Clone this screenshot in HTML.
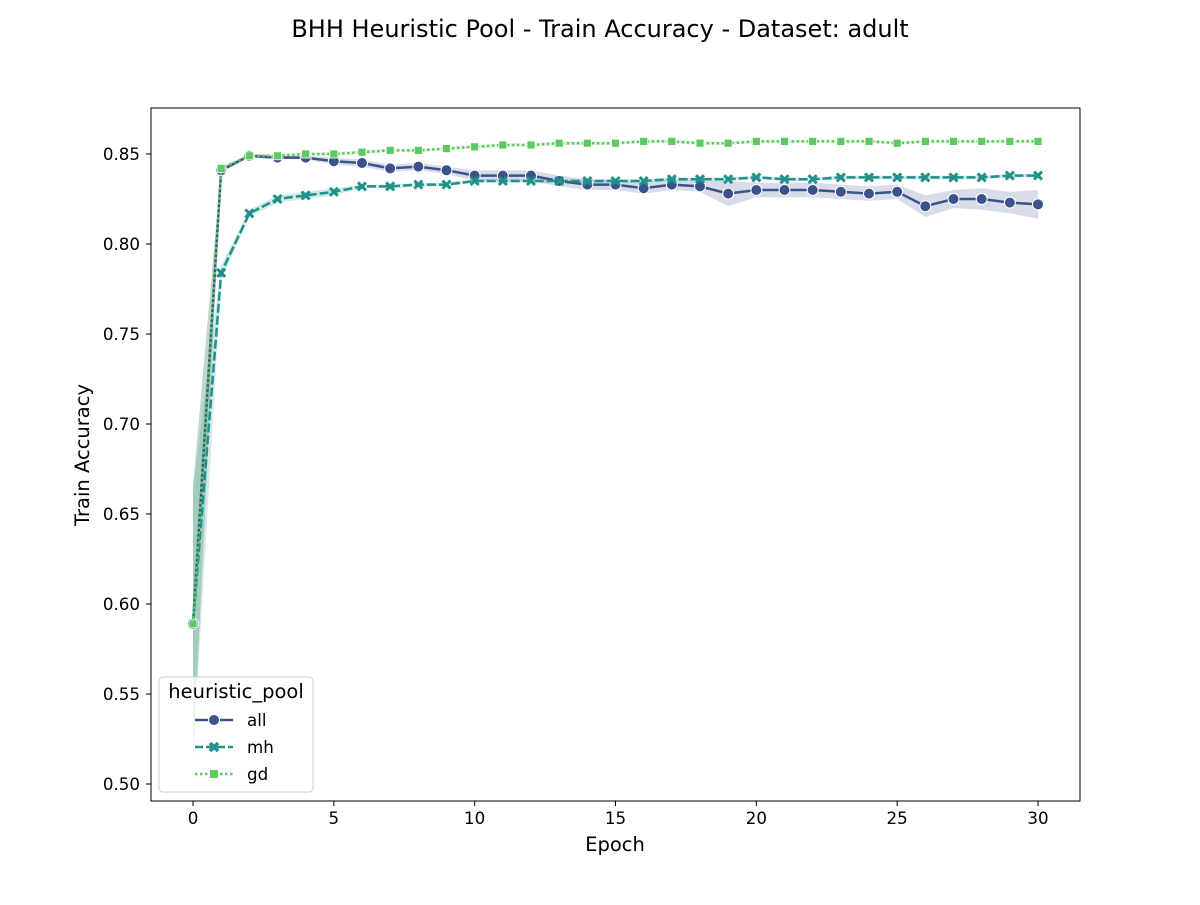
<!DOCTYPE html>
<html><head><meta charset="utf-8"><style>
body{margin:0;background:#fff;font-family:"Liberation Sans","DejaVu Sans",sans-serif;}
svg text{font-family:"DejaVu Sans","Liberation Sans",sans-serif;}
</style></head><body>
<svg id="chart" width="1200" height="900" xmlns="http://www.w3.org/2000/svg">
<rect width="1200" height="900" fill="#fff"/>
<text x="600" y="37" font-size="24" text-anchor="middle">BHH Heuristic Pool - Train Accuracy - Dataset: adult</text>
<g id="bands"></g><g id="lines"></g><g id="axes"></g>
<g id="legend">
<rect x="159" y="677" width="154" height="115" rx="4" fill="#fff" fill-opacity="0.8" stroke="#ccc"/>
<text x="236" y="698" font-size="19.5" text-anchor="middle">heuristic_pool</text>
<g><line x1="195" y1="720" x2="233" y2="720" stroke="#3b528b" stroke-width="2.5"/><circle cx="214" cy="720" r="5.5" fill="#3b528b" stroke="#fff"/><text x="247" y="726" font-size="16.7">all</text></g>
<g><line x1="195" y1="747" x2="233" y2="747" stroke="#21918c" stroke-width="2.5" stroke-dasharray="8,3"/><path d="M210,743L218,751M218,743L210,751" stroke="#21918c" stroke-width="3.5"/><text x="247" y="753" font-size="16.7">mh</text></g>
<g><line x1="195" y1="774" x2="233" y2="774" stroke="#5ec962" stroke-width="2.5" stroke-dasharray="2.5,2.5"/><rect x="210" y="770" width="8" height="8" fill="#5ec962"/><text x="247" y="780" font-size="16.7">gd</text></g>
</g>
</svg>
<script>
const epochs=[0,1,2,3,4,5,6,7,8,9,10,11,12,13,14,15,16,17,18,19,20,21,22,23,24,25,26,27,28,29,30];
const allVals=[0.589,0.841,0.849,0.848,0.848,0.846,0.845,0.842,0.843,0.841,0.838,0.838,0.838,0.835,0.833,0.833,0.831,0.833,0.832,0.828,0.830,0.830,0.830,0.829,0.828,0.829,0.821,0.825,0.825,0.823,0.822];
const mhVals=[0.589,0.784,0.817,0.825,0.827,0.829,0.832,0.832,0.833,0.833,0.835,0.835,0.835,0.835,0.835,0.835,0.835,0.836,0.836,0.836,0.837,0.836,0.836,0.837,0.837,0.837,0.837,0.837,0.837,0.838,0.838];
const gdVals=[0.589,0.842,0.849,0.849,0.850,0.850,0.851,0.852,0.852,0.853,0.854,0.855,0.855,0.856,0.856,0.856,0.857,0.857,0.856,0.856,0.857,0.857,0.857,0.857,0.857,0.856,0.857,0.857,0.857,0.857,0.857];
const allErr=[0.077,0.001,0.001,0.001,0.001,0.002,0.002,0.002,0.002,0.002,0.003,0.003,0.003,0.003,0.003,0.003,0.003,0.003,0.003,0.007,0.004,0.004,0.004,0.004,0.004,0.004,0.006,0.005,0.006,0.006,0.008];
const mhErr=[0.075,0.004,0.002,0.002,0.002,0.002,0.001,0.001,0.001,0.001,0.001,0.001,0.001,0.001,0.001,0.001,0.001,0.001,0.001,0.001,0.001,0.001,0.001,0.001,0.001,0.001,0.001,0.001,0.001,0.001,0.001];
const gdErr=[0.075,0.001,0.001,0.001,0.001,0.001,0.001,0.001,0.001,0.001,0.001,0.001,0.001,0.001,0.001,0.001,0.001,0.001,0.001,0.001,0.001,0.001,0.001,0.001,0.001,0.001,0.001,0.001,0.001,0.001,0.001];
const xTicks=[0,5,10,15,20,25,30];
const yTicks=[0.50,0.55,0.60,0.65,0.70,0.75,0.80,0.85];
const NS='http://www.w3.org/2000/svg';
const X=v=>193+(v/30)*845;
const Y=v=>784-(v-0.5)/0.35*630;
function mk(tag,attrs,parent){const e=document.createElementNS(NS,tag);for(const k in attrs)e.setAttribute(k,attrs[k]);parent.appendChild(e);return e;}
const axes=document.getElementById('axes');
const frame=mk('rect',{x:151,y:108,width:929,height:693,fill:'none',stroke:'#000','stroke-width':1},axes);


xTicks.forEach(t=>{
  const g=mk('g',{},axes);
  
  
  mk('line',{x1:X(t),x2:X(t),y1:801,y2:806,stroke:'#000'},g);
  const tx=mk('text',{x:X(t),y:824,'font-size':16.7,'text-anchor':'middle'},g);tx.textContent=t;
});
yTicks.forEach(t=>{
  const g=mk('g',{},axes);
  
  
  mk('line',{x1:146,x2:151,y1:Y(t),y2:Y(t),stroke:'#000'},g);
  const tx=mk('text',{x:140,y:Y(t)+6,'font-size':16.7,'text-anchor':'end'},g);tx.textContent=t.toFixed(2);
});
const xl=mk('text',{x:615,y:851,'font-size':19.5,'text-anchor':'middle'},axes);xl.textContent='Epoch';


const yl=mk('text',{x:89,y:455,'font-size':19.5,'text-anchor':'middle',transform:'rotate(-90 89 455)'},axes);yl.textContent='Train Accuracy';


const series=[
 {name:'all',vals:allVals,err:allErr,color:'#3b528b',dash:'',marker:'circle'},
 {name:'mh',vals:mhVals,err:mhErr,color:'#21918c',dash:'9,3',marker:'x'},
 {name:'gd',vals:gdVals,err:gdErr,color:'#5ec962',dash:'2.5,2.5',marker:'square'}];
const bands=document.getElementById('bands'),lines=document.getElementById('lines');
series.forEach(s=>{
  let up=epochs.map((e,i)=>X(e)+','+Y(s.vals[i]+s.err[i]));
  let lo=epochs.map((e,i)=>X(e)+','+Y(s.vals[i]-s.err[i])).reverse();
  const b=mk('polygon',{points:up.concat(lo).join(' '),fill:s.color,'fill-opacity':0.2},bands);
  
  
});
series.forEach(s=>{
  const g=mk('g',{},lines);
  
  
  mk('polyline',{points:epochs.map((e,i)=>X(e)+','+Y(s.vals[i])).join(' '),fill:'none',stroke:s.color,'stroke-width':2.5,'stroke-dasharray':s.dash},g);
  epochs.forEach((e,i)=>{
    const cx=X(e),cy=Y(s.vals[i]);let m;
    if(s.marker==='circle')m=mk('circle',{cx:cx,cy:cy,r:5.5,fill:s.color,stroke:'#fff','stroke-width':1},g);
    else if(s.marker==='square')m=mk('rect',{x:cx-4,y:cy-4,width:8,height:8,fill:s.color,stroke:'#fff','stroke-width':0.8},g);
    else{m=mk('path',{d:`M${cx-4},${cy-4}L${cx+4},${cy+4}M${cx+4},${cy-4}L${cx-4},${cy+4}`,stroke:s.color,'stroke-width':3},g);}
    
    
  });
});
</script>
</body></html>
